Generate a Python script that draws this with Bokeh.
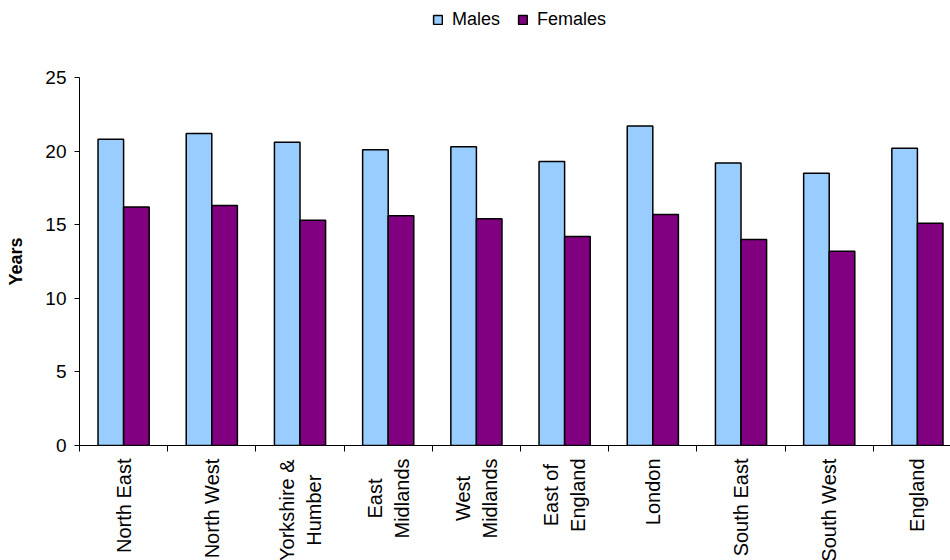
from bokeh.plotting import figure
from bokeh.models import Range1d, FixedTicker, Legend, LegendItem, ColumnDataSource
from bokeh.layouts import column
from bokeh.core.properties import value
from bokeh.embed import file_html
from bokeh.resources import INLINE
import math

# Regions and expectation-of-life values (years)
regions = ["North East", "North West", "Yorkshire &\nHumber", "East\nMidlands",
           "West\nMidlands", "East of\nEngland", "London", "South East",
           "South West", "England"]
males = [20.8, 21.2, 20.6, 20.1, 20.3, 19.3, 21.7, 19.2, 18.5, 20.2]
females = [16.2, 16.3, 15.3, 15.6, 15.4, 14.2, 15.7, 14.0, 13.2, 15.1]
y_ticks = [0, 5, 10, 15, 20, 25]

FONT = "Liberation Sans"
MALE_COLOR = "#99CCFF"
FEMALE_COLOR = "#800080"
W = 950
LEFT = 79
LABEL_PX = 20

x_range = Range1d(0, 9.875)

# ---- legend strip (frames of the column are aligned, so it starts at LEFT) ----
top = figure(width=W, height=67, output_backend="svg", toolbar_location=None,
             x_axis_location=None, y_axis_location=None,
             x_range=Range1d(0, 1), y_range=Range1d(0, 1),
             min_border_left=LEFT, min_border_right=0, min_border_top=0,
             min_border_bottom=0)
top.outline_line_color = None
top.grid.visible = False
# swatch renderers: hidden themselves, they only supply the legend entries
lm = top.vbar(x=[0.5], top=[1], width=0.1, fill_color=MALE_COLOR,
              line_color="black", line_width=1.5, visible=False)
lf = top.vbar(x=[0.5], top=[1], width=0.1, fill_color=FEMALE_COLOR,
              line_color="black", line_width=1.5, visible=False)
legend = Legend(items=[LegendItem(label="Males", renderers=[lm]),
                       LegendItem(label="Females", renderers=[lf])],
                orientation="horizontal", location=(432 - LEFT, 37),
                glyph_width=11, glyph_height=11, label_standoff=9, spacing=17,
                padding=0, margin=0, border_line_color=None,
                background_fill_alpha=0, inactive_fill_alpha=0,
                click_policy="none",
                label_text_font=FONT, label_text_font_size="18px",
                label_text_color="black")
top.add_layout(legend, "center")

# ---- bar chart -----------------------------------------------------------
p = figure(width=W, height=390, output_backend="svg", toolbar_location=None,
           x_range=x_range, y_range=Range1d(0, 25),
           min_border_left=LEFT, min_border_right=0, min_border_top=10,
           min_border_bottom=12)
p.outline_line_color = None
p.xgrid.visible = False
p.ygrid.visible = False

centers = [i + 0.5 for i in range(len(regions))]
dodge = 0.145
bar_w = 0.29

p.vbar(x=[c - dodge for c in centers], top=males, width=bar_w, bottom=0,
       fill_color=MALE_COLOR, line_color="black", line_width=1.5)
p.vbar(x=[c + dodge for c in centers], top=females, width=bar_w, bottom=0,
       fill_color=FEMALE_COLOR, line_color="black", line_width=1.5)

# x axis: only tick marks at the category boundaries
xa = p.xaxis[0]
xa.ticker = FixedTicker(ticks=[], minor_ticks=list(range(len(regions) + 1)))
xa.major_tick_out = 0
xa.major_tick_in = 0
xa.minor_tick_out = 6
xa.minor_tick_in = 0
xa.minor_tick_line_color = "black"
xa.axis_line_color = "black"
xa.major_label_standoff = 0

ya = p.yaxis[0]
ya.ticker = FixedTicker(ticks=y_ticks)
ya.minor_tick_line_color = None
ya.major_tick_out = 5
ya.major_tick_in = 0
ya.axis_line_color = "black"
ya.major_tick_line_color = "black"
ya.major_label_text_font = FONT
ya.major_label_text_font_size = "19px"
ya.major_label_text_color = "black"
ya.major_label_standoff = 8
ya.axis_label = "Years"
ya.axis_label_text_font = FONT
ya.axis_label_text_font_size = "18px"
ya.axis_label_text_font_style = "bold"
ya.axis_label_text_color = "black"
ya.axis_label_standoff = 16

# ---- rotated category labels ------------------------------------------------
# Arial / Liberation Sans advance widths (1/1000 em) for measuring the lines
ADV = {" ": 278, "&": 667, "E": 667, "H": 722, "L": 556, "M": 833, "N": 722,
       "S": 667, "W": 944, "Y": 667, "a": 556, "b": 556, "d": 556, "e": 556,
       "f": 278, "g": 556, "h": 556, "i": 222, "k": 500, "l": 222, "m": 833,
       "n": 556, "o": 556, "r": 333, "s": 500, "t": 278, "u": 556, "w": 722}


def text_len(s, px):
    return sum(ADV.get(ch, 556) for ch in s) * px / 1000.0


LABEL_TOP = 1        # px below the top of the label strip
LINE_STEP = 27       # px between the centres of wrapped lines
lab = dict(x=[], y=[], text=[], dx=[])
for c, name in zip(centers, regions):
    lines = name.split("\n")
    longest = max(text_len(s, LABEL_PX) for s in lines)
    n = len(lines)
    for i, s in enumerate(lines):
        lab["x"].append(c)
        lab["y"].append(LABEL_TOP + longest / 2.0)
        lab["text"].append(s)
        lab["dx"].append((i - (n - 1) / 2.0) * LINE_STEP)

bottom = figure(width=W, height=103, output_backend="svg", toolbar_location=None,
                x_axis_location=None, y_axis_location=None,
                x_range=x_range, y_range=Range1d(103, 0),
                min_border_left=LEFT, min_border_right=0, min_border_top=0,
                min_border_bottom=0)
bottom.outline_line_color = None
bottom.grid.visible = False
bottom.text(x="x", y="y", text="text", x_offset="dx", source=ColumnDataSource(lab),
            angle=math.pi / 2, text_align="center", text_baseline="middle",
            text_font=value(FONT), text_font_size=value(f"{LABEL_PX}px"),
            text_color="black")

layout = column(top, p, bottom, spacing=0)
open("out.html", "w").write(file_html(layout, INLINE))
